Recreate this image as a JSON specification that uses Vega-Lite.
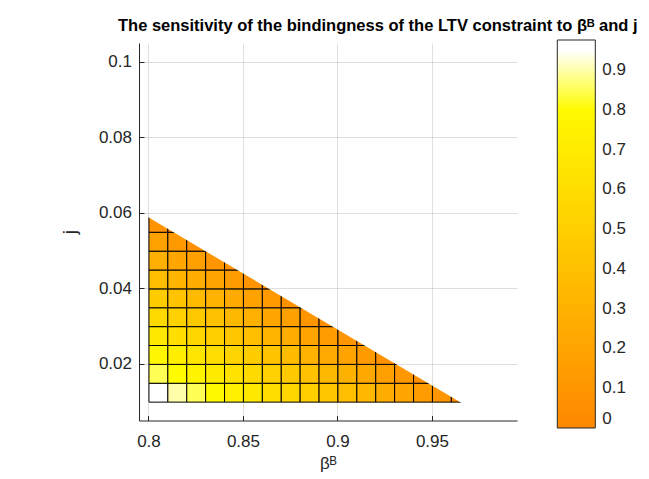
{
  "$schema": "https://vega.github.io/schema/vega-lite/v6.json",
  "width": 378,
  "height": 377.5,
  "autosize": {"type": "none"},
  "padding": {"left": 139, "top": 43, "right": 132, "bottom": 58.5},
  "background": "white",
  "title": {
    "text": "The sensitivity of the bindingness of the LTV constraint to βᴮ and j",
    "font": "Liberation Sans",
    "fontSize": 16.5,
    "fontWeight": "bold",
    "color": "#000000",
    "anchor": "start",
    "frame": "group",
    "dx": -21,
    "offset": 6
  },
  "config": {
    "view": {"stroke": null},
    "axis": {
      "grid": true,
      "gridColor": "#262626",
      "gridOpacity": 0.15,
      "domainColor": "#262626",
      "tickColor": "#262626",
      "tickSize": -5,
      "labelColor": "#262626",
      "labelFont": "Liberation Sans",
      "labelFontSize": 17,
      "titleFont": "Liberation Sans",
      "titleFontSize": 17,
      "titleFontWeight": "normal",
      "titleColor": "#262626",
      "format": "~g"
    }
  },
  "datasets": {
    "cells": [
      {"b": 0.80, "j": 0.010, "v": 0.976}, {"b": 0.80, "j": 0.015, "v": 0.88}, {"b": 0.80, "j": 0.020, "v": 0.78}, {"b": 0.80, "j": 0.025, "v": 0.68}, {"b": 0.80, "j": 0.030, "v": 0.58},
      {"b": 0.80, "j": 0.035, "v": 0.48}, {"b": 0.80, "j": 0.040, "v": 0.38}, {"b": 0.80, "j": 0.045, "v": 0.28}, {"b": 0.80, "j": 0.050, "v": 0.18}, {"b": 0.80, "j": 0.055, "v": 0.08},
      {"b": 0.81, "j": 0.010, "v": 0.92}, {"b": 0.81, "j": 0.015, "v": 0.82}, {"b": 0.81, "j": 0.020, "v": 0.72}, {"b": 0.81, "j": 0.025, "v": 0.62}, {"b": 0.81, "j": 0.030, "v": 0.52},
      {"b": 0.81, "j": 0.035, "v": 0.42}, {"b": 0.81, "j": 0.040, "v": 0.32}, {"b": 0.81, "j": 0.045, "v": 0.22}, {"b": 0.81, "j": 0.050, "v": 0.12}, {"b": 0.81, "j": 0.055, "v": 0.02},
      {"b": 0.82, "j": 0.010, "v": 0.86}, {"b": 0.82, "j": 0.015, "v": 0.76}, {"b": 0.82, "j": 0.020, "v": 0.66}, {"b": 0.82, "j": 0.025, "v": 0.56}, {"b": 0.82, "j": 0.030, "v": 0.46},
      {"b": 0.82, "j": 0.035, "v": 0.36}, {"b": 0.82, "j": 0.040, "v": 0.26}, {"b": 0.82, "j": 0.045, "v": 0.16}, {"b": 0.82, "j": 0.050, "v": 0.06},
      {"b": 0.83, "j": 0.010, "v": 0.80}, {"b": 0.83, "j": 0.015, "v": 0.70}, {"b": 0.83, "j": 0.020, "v": 0.60}, {"b": 0.83, "j": 0.025, "v": 0.50}, {"b": 0.83, "j": 0.030, "v": 0.40},
      {"b": 0.83, "j": 0.035, "v": 0.30}, {"b": 0.83, "j": 0.040, "v": 0.20}, {"b": 0.83, "j": 0.045, "v": 0.10},
      {"b": 0.84, "j": 0.010, "v": 0.74}, {"b": 0.84, "j": 0.015, "v": 0.64}, {"b": 0.84, "j": 0.020, "v": 0.54}, {"b": 0.84, "j": 0.025, "v": 0.44}, {"b": 0.84, "j": 0.030, "v": 0.34},
      {"b": 0.84, "j": 0.035, "v": 0.24}, {"b": 0.84, "j": 0.040, "v": 0.14}, {"b": 0.84, "j": 0.045, "v": 0.04},
      {"b": 0.85, "j": 0.010, "v": 0.68}, {"b": 0.85, "j": 0.015, "v": 0.58}, {"b": 0.85, "j": 0.020, "v": 0.48}, {"b": 0.85, "j": 0.025, "v": 0.38}, {"b": 0.85, "j": 0.030, "v": 0.28},
      {"b": 0.85, "j": 0.035, "v": 0.18}, {"b": 0.85, "j": 0.040, "v": 0.08},
      {"b": 0.86, "j": 0.010, "v": 0.62}, {"b": 0.86, "j": 0.015, "v": 0.52}, {"b": 0.86, "j": 0.020, "v": 0.42}, {"b": 0.86, "j": 0.025, "v": 0.32}, {"b": 0.86, "j": 0.030, "v": 0.22},
      {"b": 0.86, "j": 0.035, "v": 0.12}, {"b": 0.86, "j": 0.040, "v": 0.02},
      {"b": 0.87, "j": 0.010, "v": 0.56}, {"b": 0.87, "j": 0.015, "v": 0.46}, {"b": 0.87, "j": 0.020, "v": 0.36}, {"b": 0.87, "j": 0.025, "v": 0.26}, {"b": 0.87, "j": 0.030, "v": 0.16},
      {"b": 0.87, "j": 0.035, "v": 0.06},
      {"b": 0.88, "j": 0.010, "v": 0.50}, {"b": 0.88, "j": 0.015, "v": 0.40}, {"b": 0.88, "j": 0.020, "v": 0.30}, {"b": 0.88, "j": 0.025, "v": 0.20}, {"b": 0.88, "j": 0.030, "v": 0.10},
      {"b": 0.88, "j": 0.035, "v": 0.00},
      {"b": 0.89, "j": 0.010, "v": 0.44}, {"b": 0.89, "j": 0.015, "v": 0.34}, {"b": 0.89, "j": 0.020, "v": 0.24}, {"b": 0.89, "j": 0.025, "v": 0.14}, {"b": 0.89, "j": 0.030, "v": 0.04},
      {"b": 0.90, "j": 0.010, "v": 0.39}, {"b": 0.90, "j": 0.015, "v": 0.29}, {"b": 0.90, "j": 0.020, "v": 0.19}, {"b": 0.90, "j": 0.025, "v": 0.09},
      {"b": 0.91, "j": 0.010, "v": 0.33}, {"b": 0.91, "j": 0.015, "v": 0.23}, {"b": 0.91, "j": 0.020, "v": 0.13}, {"b": 0.91, "j": 0.025, "v": 0.03},
      {"b": 0.92, "j": 0.010, "v": 0.27}, {"b": 0.92, "j": 0.015, "v": 0.17}, {"b": 0.92, "j": 0.020, "v": 0.07},
      {"b": 0.93, "j": 0.010, "v": 0.21}, {"b": 0.93, "j": 0.015, "v": 0.11}, {"b": 0.93, "j": 0.020, "v": 0.01},
      {"b": 0.94, "j": 0.010, "v": 0.15}, {"b": 0.94, "j": 0.015, "v": 0.05},
      {"b": 0.95, "j": 0.010, "v": 0.09},
      {"b": 0.96, "j": 0.010, "v": 0.03}
    ],
    "boundary": [
      {"b": 0.7995, "j": 0.05895, "top": 0.0605},
      {"b": 0.9659, "j": 0.0096, "top": 0.0605},
      {"b": 0.971, "j": 0.0096, "top": 0.0605}
    ]
  },
  "layer": [
    {
      "data": {"name": "cells"},
      "mark": {"type": "rect", "stroke": "#000000", "strokeWidth": 1, "binSpacing": 0},
      "encoding": {
        "x": {
          "field": "b", "type": "quantitative",
          "bin": {"binned": true, "step": 0.01},
          "scale": {"domain": [0.795, 0.995], "nice": false, "zero": false},
          "axis": {"values": [0.8, 0.85, 0.9, 0.95], "labelPadding": 18, "titlePadding": 6, "zindex": 1},
          "title": "βᴮ"
        },
        "y": {
          "field": "j", "type": "quantitative",
          "bin": {"binned": true, "step": 0.005},
          "scale": {"domain": [0.005, 0.105], "nice": false, "zero": false},
          "axis": {"values": [0.02, 0.04, 0.06, 0.08, 0.1], "labelPadding": 12.5, "titlePadding": 19, "titleFontSize": 19, "zindex": 1},
          "title": "j"
        },
        "color": {
          "field": "v", "type": "quantitative",
          "scale": {
            "type": "linear",
            "domain": [0, 0.845, 0.8451, 0.892, 0.8921, 0.938, 0.9381, 0.976],
            "range": ["#ff8800", "#ffff00", "#ffff55", "#ffff55", "#ffffaa", "#ffffaa", "#ffffff", "#ffffff"],
            "nice": false, "zero": false
          },
          "legend": {
            "orient": "none",
            "legendX": 418.3,
            "legendY": -3,
            "direction": "vertical",
            "title": null,
            "gradientLength": 388,
            "gradientThickness": 38,
            "gradientStrokeColor": "#262626",
            "gradientStrokeWidth": 1,
            "values": [0, 0.1, 0.2, 0.3, 0.4, 0.5, 0.6, 0.7, 0.8, 0.9],
            "format": "~g",
            "labelFont": "Liberation Sans",
            "labelFontSize": 17,
            "labelColor": "#262626",
            "labelOffset": 7,
            "labelBaseline": "middle",
            "labelOverlap": false,
            "padding": 0,
            "offset": 0
          }
        }
      }
    },
    {
      "data": {"name": "boundary"},
      "mark": {"type": "area", "fill": "white", "interpolate": "linear"},
      "encoding": {
        "x": {"field": "b", "type": "quantitative", "title": "βᴮ"},
        "y": {"field": "j", "type": "quantitative", "title": "j"},
        "y2": {"field": "top"}
      }
    }
  ]
}
